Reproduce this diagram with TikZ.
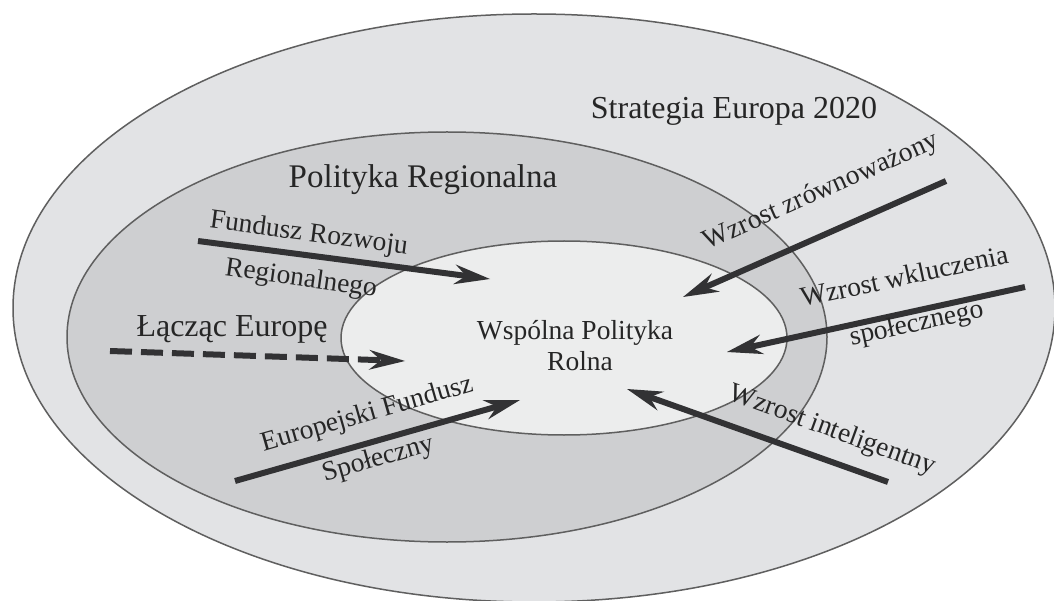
\documentclass[tikz,border=0pt]{standalone}
\usepackage{fontspec}
\setmainfont{Liberation Serif}
\usetikzlibrary{arrows.meta}
\definecolor{outerfill}{RGB}{226,227,229}
\definecolor{midfill}{RGB}{206,207,209}
\definecolor{innerfill}{RGB}{236,237,237}
\definecolor{ringline}{RGB}{95,95,95}
\definecolor{pushgray}{RGB}{50,50,52}
\tikzset{
  ring/.style={draw=ringline, line width=1.5pt},
  push/.style={draw=pushgray, line width=6pt,
    -{Stealth[length=36pt,width=20pt,inset=12pt,line width=0pt]}},
  lbl/.style={font=\fontsize{27.5}{30}\selectfont, inner sep=0pt, anchor=base, text=black!85},
  ttl/.style={font=\fontsize{32}{35}\selectfont, inner sep=0pt, anchor=base, text=black!85},
}
\begin{document}
\begin{tikzpicture}[x=1pt,y=-1pt]
  \useasboundingbox[fill=white] (0,0) rectangle (1054,601);
  % rings
  \draw[ring,fill=outerfill] (534,308) ellipse [x radius=521pt, y radius=294pt];
  \draw[ring,fill=midfill] (447,337) ellipse [x radius=380pt, y radius=205pt];
  \draw[ring,fill=innerfill] (564,338) ellipse [x radius=223pt, y radius=97pt];
  % arrow ends
  \coordinate (frr-s) at (198,241); \coordinate (frr-e) at (490,279);
  \coordinate (lce-s) at (110,351); \coordinate (lce-e) at (405,361);
  \coordinate (efs-s) at (235,481); \coordinate (efs-e) at (520,400);
  \coordinate (wzz-s) at (946,181); \coordinate (wzz-e) at (683,297);
  \coordinate (wkl-s) at (1025,287); \coordinate (wkl-e) at (727,352);
  \coordinate (win-s) at (888,482); \coordinate (win-e) at (627,389);
  \draw[push] (frr-s) -- (frr-e);
  \draw[push,dash pattern=on 22pt off 9pt] (lce-s) -- (lce-e);
  \draw[push] (efs-s) -- (efs-e);
  \draw[push] (wzz-s) -- (wzz-e);
  \draw[push] (wkl-s) -- (wkl-e);
  \draw[push] (win-s) -- (win-e);
  % labels
  \node[ttl] (strat) at (734,119) {Strategia Europa 2020};
  \node[ttl,font=\fontsize{33}{36}\selectfont] (regpol) at (423,188) {Polityka Regionalna};
  \node[ttl] (lacz) at (232,337) {Łącząc Europę};
  \node[lbl] (wpr1) at (575,340) {Wspólna Polityka};
  \node[lbl] (wpr2) at (580,370) {Rolna};
  \node[lbl,rotate=-7.5] (frr1) at (308,241) {Fundusz Rozwoju};
  \node[lbl,rotate=-8] (frr2) at (300,286) {Regionalnego};
  \node[lbl,rotate=16] (efs1) at (369,421) {Europejski Fundusz};
  \node[lbl,rotate=16] (efs2) at (380,466) {Społeczny};
  \node[lbl,rotate=24] (wzz) at (824,198) {Wzrost zrównoważony};
  \node[lbl,rotate=12] (wkl1) at (906,285) {Wzrost wkluczenia};
  \node[lbl,rotate=12] (wkl2) at (918,331) {społecznego};
  \node[lbl,rotate=-20] (win) at (830,437) {Wzrost inteligentny};
\end{tikzpicture}
\end{document}
